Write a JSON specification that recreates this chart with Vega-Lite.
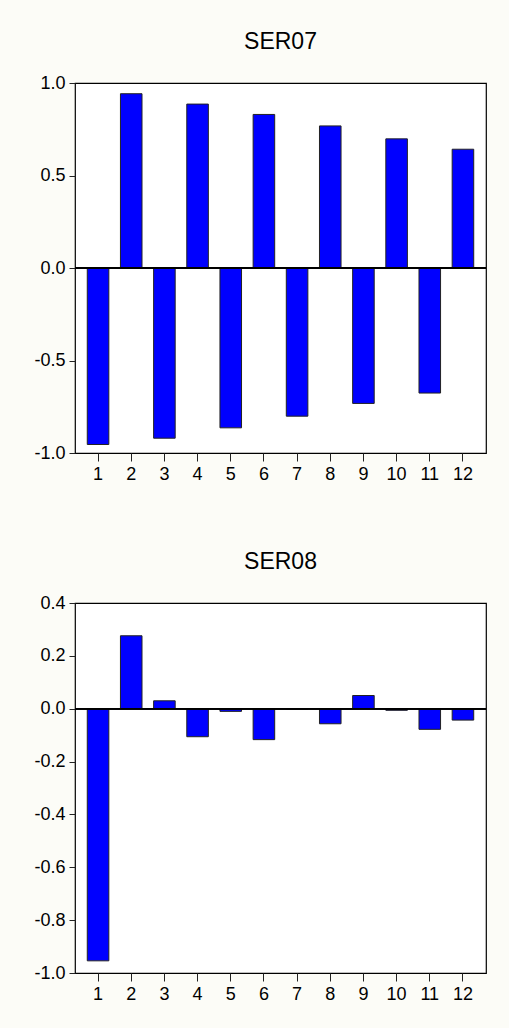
{
  "$schema": "https://vega.github.io/schema/vega-lite/v6.json",
  "background": "#fcfcf7",
  "padding": {"left": 33, "top": 30, "right": 24, "bottom": 26},
  "datasets": {
    "ser07": [
      {"lag": 1, "ac": -0.954}, {"lag": 2, "ac": 0.942}, {"lag": 3, "ac": -0.920},
      {"lag": 4, "ac": 0.886}, {"lag": 5, "ac": -0.864}, {"lag": 6, "ac": 0.830},
      {"lag": 7, "ac": -0.801}, {"lag": 8, "ac": 0.768}, {"lag": 9, "ac": -0.732},
      {"lag": 10, "ac": 0.698}, {"lag": 11, "ac": -0.676}, {"lag": 12, "ac": 0.642}
    ],
    "ser08": [
      {"lag": 1, "ac": -0.954}, {"lag": 2, "ac": 0.276}, {"lag": 3, "ac": 0.030},
      {"lag": 4, "ac": -0.106}, {"lag": 5, "ac": -0.010}, {"lag": 6, "ac": -0.117},
      {"lag": 7, "ac": -0.001}, {"lag": 8, "ac": -0.057}, {"lag": 9, "ac": 0.050},
      {"lag": 10, "ac": -0.006}, {"lag": 11, "ac": -0.078}, {"lag": 12, "ac": -0.043}
    ]
  },
  "config": {
    "font": "Liberation Sans",
    "view": {"fill": "white", "stroke": "black", "strokeWidth": 1.2},
    "axis": {
      "labelFont": "Liberation Sans", "labelFontSize": 18, "labelColor": "#000",
      "tickColor": "#222", "tickWidth": 1, "domain": false, "grid": false, "title": null
    },
    "title": {
      "font": "Liberation Sans", "fontSize": 23, "fontWeight": "normal", "color": "#000",
      "anchor": "middle", "frame": "group", "offset": 20
    }
  },
  "spacing": 66,
  "vconcat": [
    {
      "width": 411, "height": 370,
      "title": "SER07",
      "data": {"name": "ser07"},
      "layer": [
        {
          "mark": {"type": "bar", "fill": "#0000ff", "stroke": "#222", "strokeWidth": 1},
          "encoding": {
            "x": {"field": "lag", "type": "ordinal",
                  "scale": {"paddingInner": 0.35, "paddingOuter": 0.37},
                  "axis": {"labelAngle": 0, "tickSize": 8, "labelPadding": 4}},
            "y": {"field": "ac", "type": "quantitative",
                  "scale": {"domain": [-1, 1], "nice": false, "zero": false},
                  "axis": {"values": [-1, -0.5, 0, 0.5, 1], "labelExpr": "replace(format(datum.value, '.1f'), '\u2212', '-')", "tickSize": 6, "labelPadding": 4}}
          }
        },
        {"mark": {"type": "rule", "color": "black", "strokeWidth": 1.2}, "encoding": {"y": {"datum": 0}}}
      ]
    },
    {
      "width": 411, "height": 370,
      "title": "SER08",
      "data": {"name": "ser08"},
      "layer": [
        {
          "mark": {"type": "bar", "fill": "#0000ff", "stroke": "#222", "strokeWidth": 1},
          "encoding": {
            "x": {"field": "lag", "type": "ordinal",
                  "scale": {"paddingInner": 0.35, "paddingOuter": 0.37},
                  "axis": {"labelAngle": 0, "tickSize": 8, "labelPadding": 4}},
            "y": {"field": "ac", "type": "quantitative",
                  "scale": {"domain": [-1, 0.4], "nice": false, "zero": false},
                  "axis": {"values": [-1, -0.8, -0.6, -0.4, -0.2, 0, 0.2, 0.4], "labelExpr": "replace(format(datum.value, '.1f'), '\u2212', '-')", "tickSize": 6, "labelPadding": 4}}
          }
        },
        {"mark": {"type": "rule", "color": "black", "strokeWidth": 1.2}, "encoding": {"y": {"datum": 0}}}
      ]
    }
  ]
}
